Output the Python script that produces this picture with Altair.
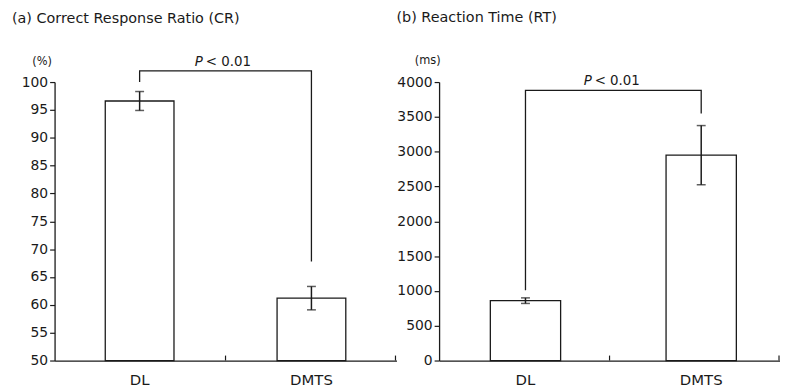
import altair as alt
import pandas as pd

# ---- data ----
categories = ["DL", "DMTS"]
cr_mean = [96.6, 61.2]
cr_err = [1.7, 2.1]
rt_mean = [860, 2950]
rt_err = [40, 425]

bracket_x = ["DL", "DL", "DMTS", "DMTS"]
cr_bracket = [100.0, 102.0, 102.0, 67.8]
rt_bracket = [1010, 3880, 3880, 3550]

cr_ticks = [50, 55, 60, 65, 70, 75, 80, 85, 90, 95, 100]
rt_ticks = [0, 500, 1000, 1500, 2000, 2500, 3000, 3500, 4000]

FONT = "DejaVu Sans"
INK = "#1a1a1a"
H = 281


def panel(title, unit, mean, err, bracket, ticks, width, pad_outer, align,
          p_shift, unit_x, unit_y):
    bars = pd.DataFrame({
        "cat": categories,
        "mean": mean,
        "lo": [m - e for m, e in zip(mean, err)],
        "hi": [m + e for m, e in zip(mean, err)],
    })
    br = pd.DataFrame({"cat": bracket_x, "y": bracket, "order": list(range(len(bracket)))})
    top = pd.DataFrame({"top": [max(bracket)]})
    domain = [ticks[0], ticks[-1]]

    xscale = alt.Scale(domain=categories, paddingInner=0.6, paddingOuter=pad_outer, align=align)
    yscale = alt.Scale(domain=domain, nice=False, zero=False)
    xaxis = alt.Axis(title=None, labelAngle=0, tickSize=0, labelPadding=12,
                     domainColor=INK, domainWidth=1.3, labelFont=FONT,
                     labelFontSize=15, labelColor=INK)
    yaxis = alt.Axis(values=ticks, format="d", grid=False, tickSize=5, tickWidth=1.2,
                     tickColor=INK, domainColor=INK, domainWidth=1.3, labelPadding=2,
                     labelFont=FONT, labelFontSize=14, labelColor=INK,
                     title=unit, titleAngle=0, titleX=unit_x, titleY=unit_y,
                     titleAlign="center", titleBaseline="middle", titleFont=FONT,
                     titleFontSize=11.5, titleFontWeight="normal", titleColor=INK)

    def X():
        return alt.X("cat:N", scale=xscale, sort=categories, axis=xaxis)

    def Y(field):
        return alt.Y(field, scale=yscale, axis=yaxis)

    base = alt.Chart(bars)
    bar = base.mark_bar(fill="white", stroke=INK, strokeWidth=1.3).encode(
        x=X(), y=Y("mean:Q"), y2=alt.datum(domain[0]))
    rule = base.mark_rule(color=INK, strokeWidth=1.5).encode(
        x=X(), y=Y("lo:Q"), y2="hi:Q")
    cap_lo = base.mark_tick(color=INK, orient="horizontal", size=9, thickness=1.5).encode(
        x=X(), y=Y("lo:Q"))
    cap_hi = base.mark_tick(color=INK, orient="horizontal", size=9, thickness=1.5).encode(
        x=X(), y=Y("hi:Q"))
    line = alt.Chart(br).mark_line(color=INK, strokeWidth=1.3).encode(
        x=X(), y=Y("y:Q"), order="order:Q")
    p_it = alt.Chart(top).mark_text(text="P", fontStyle="italic", align="right",
                                    baseline="alphabetic", dy=-5, font=FONT,
                                    fontSize=13.5, color=INK).encode(
        x=alt.value(width / 2 + p_shift), y=Y("top:Q"))
    p_rest = alt.Chart(top).mark_text(text="< 0.01", align="left",
                                      baseline="alphabetic", dy=-5, font=FONT,
                                      fontSize=13.5, color=INK).encode(
        x=alt.value(width / 2 + p_shift + 3), y=Y("top:Q"))
    xt = alt.Chart(top).mark_rule(color=INK, strokeWidth=1.2).encode(
        x=alt.value(width / 2), y=alt.value(H - 5), y2=alt.value(H))
    xt2 = alt.Chart(top).mark_rule(color=INK, strokeWidth=1.2).encode(
        x=alt.value(width - 1), y=alt.value(H - 5), y2=alt.value(H))

    return alt.layer(bar, rule, cap_lo, cap_hi, line, p_it, p_rest, xt, xt2).properties(
        width=width, height=H,
        title=alt.TitleParams(title, anchor="start", frame="group", dx=-43, fontSize=14.5,
                              font=FONT, fontWeight="normal", color=INK, offset=29),
    )


left = panel("(a) Correct Response Ratio (CR)", "(%)", cr_mean, cr_err, cr_bracket,
             cr_ticks, 345, 0.295, 0.5, -23, -13, -21)
right = panel("(b) Reaction Time (RT)", "(ms)", rt_mean, rt_err, rt_bracket,
              rt_ticks, 344, 0.27, 0.54, -18, -12, -22)

chart = alt.hconcat(left, right, spacing=43, bounds="flush").properties(
    padding={"left": 4, "top": 0, "right": 0, "bottom": 0}
).configure(background="white").configure_view(stroke=None)

chart.save("out.html", embed_options={"renderer": "svg", "actions": False})
